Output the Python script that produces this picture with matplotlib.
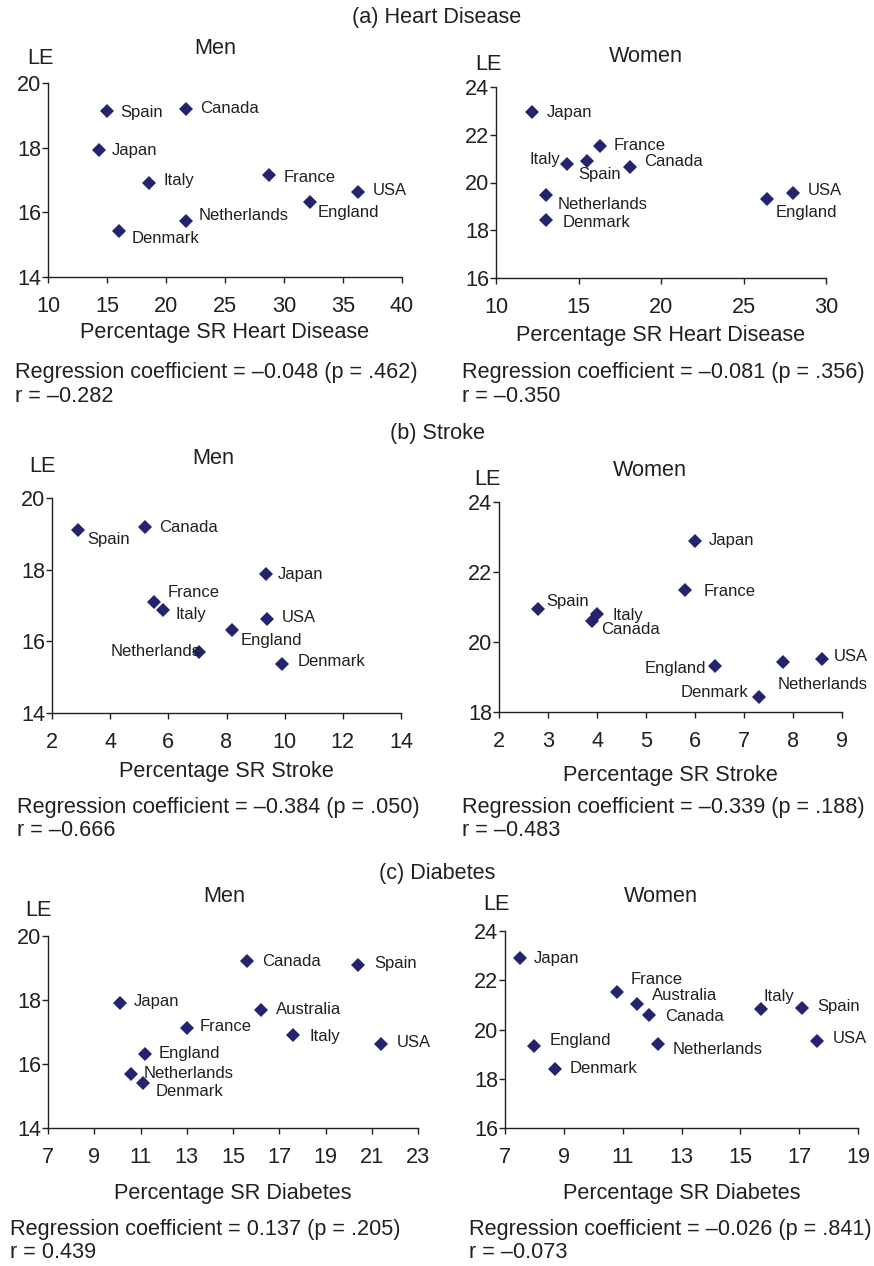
import matplotlib
matplotlib.use("Agg")
import matplotlib.pyplot as plt

plt.rcParams['font.family'] = ['Liberation Sans', 'DejaVu Sans']

# ---------------- data ----------------
countries_hd = ["Spain", "Canada", "Japan", "Italy", "France", "USA", "England", "Netherlands", "Denmark"]
hd_men_x = [15.0, 21.7, 14.3, 18.6, 28.7, 36.3, 32.2, 21.7, 16.0]
hd_men_y = [19.12, 19.21, 17.93, 16.91, 17.14, 16.64, 16.31, 15.72, 15.42]
hd_women_x = [15.5, 18.1, 12.2, 14.3, 16.3, 28.0, 26.4, 13.0, 13.0]
hd_women_y = [20.92, 20.64, 22.95, 20.76, 21.52, 19.57, 19.31, 19.46, 18.41]

countries_st = ["Spain", "Canada", "Japan", "Italy", "France", "USA", "England", "Netherlands", "Denmark"]
st_men_x = [2.9, 5.2, 9.35, 5.8, 5.5, 9.4, 8.2, 7.07, 9.9]
st_men_y = [19.10, 19.19, 17.89, 16.88, 17.11, 16.63, 16.32, 15.70, 15.38]
st_women_x = [2.8, 3.9, 6.0, 4.0, 5.8, 8.6, 6.4, 7.8, 7.3]
st_women_y = [20.93, 20.59, 22.90, 20.80, 21.48, 19.51, 19.31, 19.43, 18.43]

countries_db = ["Spain", "Canada", "Japan", "Italy", "France", "USA", "England", "Netherlands", "Denmark", "Australia"]
db_men_x = [20.4, 15.6, 10.1, 17.6, 13.0, 21.4, 11.2, 10.6, 11.1, 16.2]
db_men_y = [19.10, 19.21, 17.91, 16.91, 17.11, 16.61, 16.31, 15.69, 15.41, 17.70]
db_women_x = [17.1, 11.9, 7.5, 15.7, 10.8, 17.6, 8.0, 12.2, 8.7, 11.5]
db_women_y = [20.89, 20.60, 22.90, 20.83, 21.53, 19.53, 19.34, 19.40, 18.40, 21.02]

section_titles = ["(a) Heart Disease", "(b) Stroke", "(c) Diabetes"]
xlabels = ["Percentage SR Heart Disease", "Percentage SR Stroke", "Percentage SR Diabetes"]
reg_texts = [
    ("Regression coefficient = \u20130.048 (p = .462)", "r = \u20130.282"),
    ("Regression coefficient = \u20130.081 (p = .356)", "r = \u20130.350"),
    ("Regression coefficient = \u20130.384 (p = .050)", "r = \u20130.666"),
    ("Regression coefficient = \u20130.339 (p = .188)", "r = \u20130.483"),
    ("Regression coefficient = 0.137 (p = .205)", "r = 0.439"),
    ("Regression coefficient = \u20130.026 (p = .841)", "r = \u20130.073"),
]
xticks = [list(range(10, 41, 5)), list(range(10, 31, 5)), list(range(2, 15, 2)),
          list(range(2, 10, 1)), list(range(7, 24, 2)), list(range(7, 20, 2))]
yticks = [list(range(14, 21, 2)), list(range(16, 25, 2)), list(range(14, 21, 2)),
          list(range(18, 25, 2)), list(range(14, 21, 2)), list(range(16, 25, 2))]

# ---------------- layout ----------------
W, H = 874, 1266
MARK = '#23236f'
TXT = '#231f20'
FS = 15.6
LFS = 12

# axes boxes in pixels: x0, x1, ytop, ybottom
boxes = [(48, 402, 83, 277), (496, 826, 87, 278),
         (52, 401, 498, 713), (499, 842, 502, 712),
         (48, 418, 936, 1128), (505, 858, 931, 1128)]

# label offsets in pixels (dx, dy up, ha)
offs = [
    {"Spain": (13, -1, 'left'), "Canada": (14, 0, 'left'), "Japan": (13, -1, 'left'),
     "Italy": (14, 2, 'left'), "France": (15, -2, 'left'), "USA": (14, 1, 'left'),
     "England": (8, -10, 'left'), "Netherlands": (13, 6, 'left'), "Denmark": (13, -7, 'left')},
    {"Japan": (14, 0, 'left'), "France": (14, 1, 'left'), "Italy": (-7, 5, 'right'),
     "Spain": (-8, -14, 'left'), "Canada": (14, 6, 'left'), "Netherlands": (12, -9, 'left'),
     "Denmark": (17, -2, 'left'), "England": (9, -14, 'left'), "USA": (15, 2, 'left')},
    {"Spain": (9, -9, 'left'), "Canada": (14, 0, 'left'), "Japan": (12, -1, 'left'),
     "France": (14, 9, 'left'), "Italy": (13, -5, 'left'), "USA": (15, 1, 'left'),
     "England": (8, -11, 'left'), "Netherlands": (1, 1, 'right'), "Denmark": (16, 2, 'left')},
    {"Japan": (14, 0, 'left'), "France": (18, -1, 'left'), "Spain": (8, 8, 'left'),
     "Italy": (15, -1, 'left'), "Canada": (9, -8, 'left'), "England": (-8, -2, 'right'),
     "Netherlands": (-6, -23, 'left'), "USA": (11, 3, 'left'), "Denmark": (-10, 4, 'right')},
    {"Canada": (15, 0, 'left'), "Spain": (16, 1, 'left'), "Japan": (14, 1, 'left'),
     "Australia": (15, 0, 'left'), "France": (13, 2, 'left'), "Italy": (16, -2, 'left'),
     "USA": (16, 2, 'left'), "England": (14, 1, 'left'), "Netherlands": (12, 0, 'left'),
     "Denmark": (13, -9, 'left')},
    {"Japan": (14, 0, 'left'), "France": (14, 12, 'left'), "Australia": (15, 9, 'left'),
     "Canada": (16, -2, 'left'), "Italy": (3, 13, 'left'), "Spain": (15, 1, 'left'),
     "USA": (16, 3, 'left'), "England": (15, 5, 'left'), "Netherlands": (15, -5, 'left'),
     "Denmark": (15, 0, 'left')},
]

titles_pos = [(215, 48), (646, 56), (213, 459), (650, 470), (224, 896), (661, 896)]
le_pos = [(40, 59), (488, 65), (42, 467), (487, 480), (38, 910), (496, 904)]
xlabel_below = [55, 58, 58, 64, 65, 65]
reg_pos = [(15, 373), (462, 373), (17, 808), (462, 808), (10, 1230), (469, 1230)]
section_pos = [(437, 18), (437, 433), (437, 873)]

panels = [
    (countries_hd, hd_men_x, hd_men_y, "Men"),
    (countries_hd, hd_women_x, hd_women_y, "Women"),
    (countries_st, st_men_x, st_men_y, "Men"),
    (countries_st, st_women_x, st_women_y, "Women"),
    (countries_db, db_men_x, db_men_y, "Men"),
    (countries_db, db_women_x, db_women_y, "Women"),
]

fig = plt.figure(figsize=(W / 100, H / 100), dpi=100)

def fx(x):
    return x / W

def fy(y):
    return 1 - y / H

PT = 0.72  # px -> pt

for i, (names, xs, ys, who) in enumerate(panels):
    x0, x1, yt, yb = boxes[i]
    ax = fig.add_axes([fx(x0), fy(yb), (x1 - x0) / W, (yb - yt) / H])
    ax.plot(xs, ys, linestyle='none', marker='D', markersize=6.8, color=MARK,
            markeredgewidth=0, clip_on=False)
    ax.set_xlim(xticks[i][0], xticks[i][-1])
    ax.set_ylim(yticks[i][0], yticks[i][-1])
    ax.set_xticks(xticks[i])
    ax.set_yticks(yticks[i])
    for s in ['top', 'right']:
        ax.spines[s].set_visible(False)
    for s in ['left', 'bottom']:
        ax.spines[s].set_linewidth(1.0)
        ax.spines[s].set_color(TXT)
    ax.tick_params(axis='x', direction='out', length=4.5, width=1.0, pad=9,
                   labelsize=FS, colors=TXT)
    ax.tick_params(axis='y', direction='out', length=4.5, width=1.0, pad=0.5,
                   labelsize=FS, colors=TXT)
    ax.set_facecolor('none')
    ax.set_xlabel(xlabels[i // 2], fontsize=FS, color=TXT, va='center')
    ax.xaxis.set_label_coords(0.5, -xlabel_below[i] / (yb - yt))
    for n, xv, yv in zip(names, xs, ys):
        dx, dy, ha = offs[i][n]
        ax.annotate(n, (xv, yv), xytext=(dx * PT, dy * PT), textcoords='offset points',
                    ha=ha, va='center', fontsize=LFS, color=TXT, annotation_clip=False)
    tx, ty = titles_pos[i]
    fig.text(fx(tx), fy(ty), who, ha='center', va='center', fontsize=FS, color=TXT)
    lx, ly = le_pos[i]
    fig.text(fx(lx), fy(ly), "LE", ha='center', va='center', fontsize=FS, color=TXT)
    rx, ry = reg_pos[i]
    fig.text(fx(rx), fy(ry), reg_texts[i][0], ha='left', va='center', fontsize=FS, color=TXT)
    fig.text(fx(rx), fy(ry + 23), reg_texts[i][1], ha='left', va='center', fontsize=FS, color=TXT)

for t, (sx, sy) in zip(section_titles, section_pos):
    fig.text(fx(sx), fy(sy), t, ha='center', va='center', fontsize=FS, color=TXT)

fig.savefig("out.png", dpi=100)
